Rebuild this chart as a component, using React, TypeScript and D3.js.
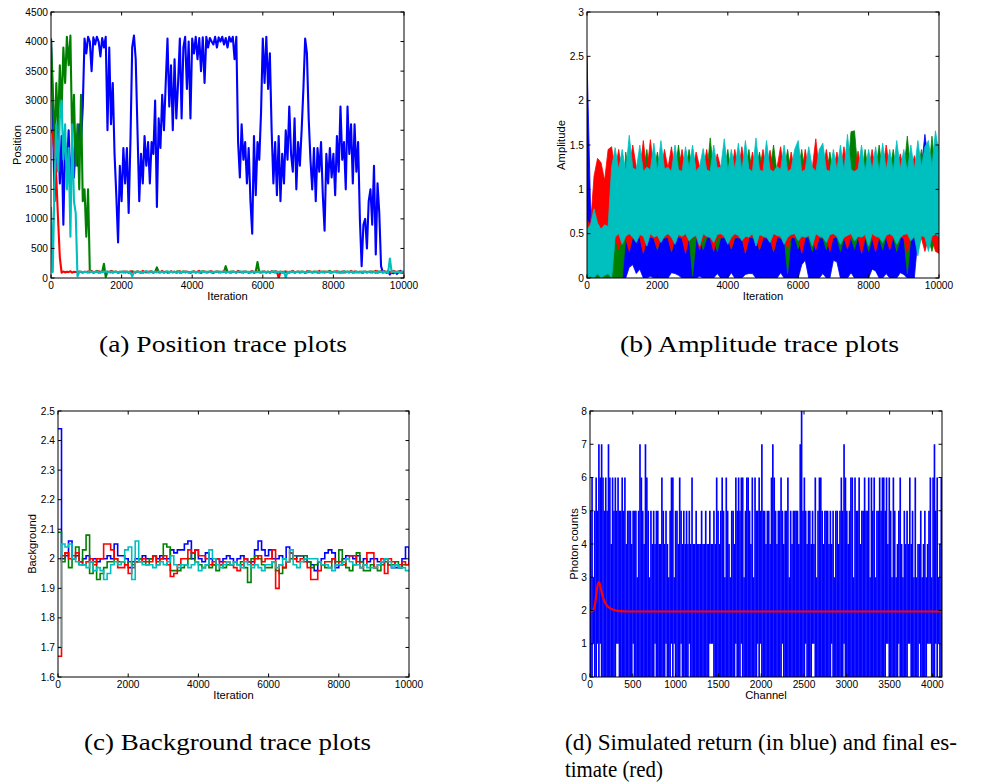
import React from 'react';
import * as d3 from 'd3';

// ---------------- Panel (a): position traces, one value every 50 iterations ----------------
const posStep = 50;
const posBlue = [
  4050,2900,1300,2200,2500,1600,2400,900,2300,1800,2500,1500,2200,1700,2400,1900,2600,2300,2900,4050,
  3800,4080,4000,3500,4070,3950,4080,4000,3750,4060,3900,4080,2500,3900,2600,3300,2100,1400,600,1900,
  1300,2200,1600,2200,1100,2300,3900,4100,3700,2500,1300,2100,1600,2400,1900,2300,1600,2300,2100,3000,
  1200,2700,2200,3100,2500,3300,4050,2900,3600,2500,3700,2700,3300,4050,2700,3900,4080,3200,4000,2700,
  4050,3800,4080,3700,4060,3500,4070,3300,4080,3900,4060,4000,3950,4080,3900,4070,4000,4080,3950,4060,
  3900,4080,4000,4080,3700,4080,2300,1700,2600,2000,2300,1600,2200,1300,750,2400,1400,2300,2000,2800,
  4050,3300,4080,3200,3800,2500,1600,2300,1400,2400,1300,2100,1600,2500,2000,2900,2100,1800,2700,1500,
  2300,1900,2500,3200,4050,3800,2700,2000,1500,2200,1300,2200,1800,2300,1400,800,2100,1600,2200,1700,
  2100,1400,2400,1800,2900,2000,2300,1500,2900,2100,2600,1600,2600,1800,2300,1000,200,900,1000,500,
  1300,1500,900,1900,400,1600,1100,200,100,110,90,120,60,100,80,110,70,100,120,90,100,
];
const posGreen = [
  4050,3200,2200,3300,2500,3600,2800,3900,3300,4080,3600,4100,2300,3100,1900,2600,1500,3100,1300,1500,
  700,1500,100,110,95,100,120,90,105,100,240,20,105,100,95,110,100,105,90,100,
  100,110,95,105,100,90,115,100,95,110,100,105,90,100,110,95,100,115,90,105,
  180,100,95,110,100,105,90,100,110,95,100,105,115,90,100,110,95,105,100,90,
  100,110,95,105,100,90,115,100,105,95,110,100,90,105,100,110,95,100,105,200,
  100,95,110,100,105,90,115,100,95,110,100,105,90,100,110,95,105,270,100,95,
  110,100,95,105,90,110,100,115,95,100,105,90,110,100,95,105,100,110,90,100,
  105,95,110,100,90,105,115,100,95,110,100,105,90,100,110,95,100,105,120,95,
  100,110,95,105,90,100,115,95,110,100,105,90,100,110,95,105,100,90,110,100,
  105,95,110,100,90,115,100,105,95,110,100,90,105,100,115,95,100,110,90,105,100,
];
const posRed = [
  2500,2450,2100,1700,1000,350,90,110,95,105,100,115,90,105,100,95,110,100,90,105,
  100,110,95,120,90,105,100,115,95,100,110,90,105,100,120,95,100,110,90,100,
  105,95,110,100,90,115,100,105,95,110,100,90,120,100,95,105,110,100,95,100,
  110,95,100,120,90,105,100,95,110,100,105,90,100,115,95,100,110,105,95,100,
  100,110,95,105,120,90,100,110,95,100,105,115,90,100,110,95,105,100,120,95,
  105,100,90,110,100,95,120,100,105,90,110,100,95,105,115,90,100,110,95,100,
  100,110,95,105,90,115,100,95,110,0,100,105,95,110,100,90,105,120,95,100,
  110,95,100,105,90,115,100,110,95,100,105,90,120,100,95,110,100,105,90,100,
  105,100,115,95,100,110,90,105,100,95,120,100,110,95,100,105,90,110,100,95,
  100,110,95,105,120,90,100,115,95,105,100,110,90,100,120,95,105,100,110,95,100,
];
const posCyan = [
  1200,100,1600,2600,1800,2700,3000,2000,2600,1500,2200,700,2600,1300,1100,30,100,110,95,105,
  100,90,115,100,105,95,110,100,90,105,100,115,95,100,110,90,105,100,95,110,
  100,105,90,110,100,95,30,100,105,110,95,100,90,105,115,100,95,110,100,105,
  95,110,100,105,90,100,115,95,105,100,110,90,100,105,95,110,100,105,90,100,
  110,95,105,100,90,115,100,105,95,110,100,90,105,100,110,95,105,100,115,90,
  100,105,95,110,100,90,105,115,100,95,110,100,105,90,100,110,95,105,100,110,
  95,105,100,110,90,100,115,95,105,100,110,90,100,10,105,95,100,110,90,105,
  100,110,95,105,100,90,115,100,105,95,100,110,90,105,100,95,110,100,105,90,
  100,105,95,110,100,90,115,100,105,95,110,100,90,105,100,95,110,100,105,95,
  100,110,90,105,100,95,110,100,105,95,100,90,330,100,110,95,105,100,90,110,100,
];
const posTicksX = [0, 2000, 4000, 6000, 8000, 10000];
const posTicksY = [0, 500, 1000, 1500, 2000, 2500, 3000, 3500, 4000, 4500];

// ---------------- Panel (b): amplitude traces, max / min per 100-iteration bin ----------------
const ampBin = 100;
const ampBlueHi = [
  2.5,0.8,0.55,0.5,0.45,0.6,0.5,0.55,0.6,0.5,
  0.55,0.5,0.46,0.62,0.48,0.45,0.5,0.6,0.47,0.48,
  0.65,0.46,0.48,0.5,0.6,0.45,0.48,0.46,0.58,0.47,
  0.5,0.46,0.62,0.45,0.48,0.5,0.46,0.6,0.47,0.45,
  0.5,0.46,0.62,0.48,0.5,0.47,0.45,0.6,0.46,0.5,
  0.64,0.47,0.45,0.5,0.6,0.45,0.48,0.58,0.46,0.47,
  0.5,0.46,0.62,0.48,0.45,0.6,0.47,0.5,0.46,0.62,
  0.48,0.46,0.5,0.45,0.6,0.47,0.48,0.46,0.5,0.62,
  0.47,0.45,0.5,0.48,0.6,0.46,0.47,0.5,0.46,0.6,
  0.48,0.46,0.5,1.0,1.2,1.25,1.62,1.3,1.2,1.25,
  1.2,
];
const ampBlueLo = [
  0,0,0,0,0,0,0,0,0,0,
  0,0,0.12,0.15,0.05,0.1,0,0,0.02,0,
  0,0,0,0,0.06,0.05,0.03,0,0,0,
  0,0,0.02,0,0,0,0,0.05,0,0,
  0,0.06,0,0,0,0.04,0.05,0.05,0,0,
  0,0,0,0,0,0.06,0,0,0,0,
  0,0.15,0.2,0,0,0,0,0.05,0,0,
  0.2,0.18,0,0,0,0.06,0,0,0,0,
  0,0.1,0.08,0,0,0.05,0,0,0,0.06,
  0.04,0,0,0,0.45,0.5,0.4,0.48,0.5,0.45,
  0.5,
];
const ampGreenHi = [
  0.1,0.08,0.05,0.06,0.04,0.07,0.1,0.5,0.55,0.45,
  0.52,1.42,1.15,1.18,1.2,1.15,1.18,1.45,1.15,1.2,
  1.42,1.15,1.18,1.2,1.15,1.18,1.5,1.15,1.2,1.45,
  1.18,1.15,1.2,1.18,1.15,1.58,1.18,1.15,1.2,1.18,
  1.45,1.15,1.18,1.2,1.15,1.18,1.45,1.15,1.2,1.42,
  1.18,1.15,1.2,1.5,1.18,1.15,1.2,1.45,1.15,1.18,
  1.2,1.45,1.15,1.18,1.2,1.15,1.18,1.2,1.15,1.42,
  1.18,1.15,1.2,1.18,1.15,1.65,1.66,1.18,1.15,1.45,
  1.18,1.15,1.2,1.5,1.18,1.15,1.2,1.45,1.18,1.15,
  1.2,1.6,1.18,1.15,1.2,1.45,1.18,1.15,1.6,1.2,
  1.5,
];
const ampGreenLo = [
  0,0,0,0,0,0,0,0,0,0,
  0,0.45,0.33,0.46,0.45,0.47,0.3,0.45,0.46,0.45,
  0.32,0.46,0.45,0.47,0.3,0.45,0.46,0.45,0.33,0.47,
  0.02,0.45,0.46,0.32,0.45,0.47,0.45,0.3,0.46,0.45,
  0.47,0.33,0.45,0.46,0.45,0.3,0.47,0.45,0.46,0.32,
  0.45,0.47,0.45,0.3,0.46,0.45,0.47,0.05,0.45,0.46,
  0.33,0.45,0.47,0.45,0.3,0.46,0.45,0.45,0.32,0.47,
  0.45,0.46,0.3,0.45,0.47,0.45,0.33,0.46,0.45,0.47,
  0.3,0.45,0.46,0.45,0.32,0.47,0.45,0.46,0.3,0.45,
  0.47,0.05,0.45,0.46,0.33,0.45,0.47,0.45,0.3,0.46,
  0.45,
];
const ampRedHi = [
  0.65,0.6,1.15,1.35,1.3,1.1,1.45,1.48,1.2,1.45,
  1.18,1.2,1.22,1.5,1.25,1.2,1.55,1.18,1.56,1.2,
  1.22,1.18,1.45,1.24,1.48,1.2,1.22,1.45,1.2,1.18,
  1.2,1.42,1.25,1.2,1.45,1.18,1.2,1.4,1.24,1.2,
  1.18,1.2,1.45,1.2,1.48,1.2,1.18,1.42,1.2,1.22,
  1.45,1.2,1.44,1.18,1.25,1.48,1.2,1.18,1.42,1.2,
  1.22,1.18,1.45,1.2,1.24,1.57,1.2,1.22,1.45,1.18,
  1.2,1.42,1.2,1.48,1.22,1.18,1.2,1.43,1.2,1.18,
  1.22,1.45,1.2,1.18,1.2,1.5,1.22,1.18,1.2,1.4,
  1.22,1.18,1.2,1.38,1.22,1.2,1.18,1.2,1.22,1.2,
  1.25,
];
const ampRedLo = [
  0.2,0.1,0.55,0.5,0.55,0.6,0.55,0.45,0.45,0.32,
  0.46,0.45,0.3,0.47,0.45,0.46,0.28,0.45,0.46,0.45,
  0.33,0.47,0.45,0.46,0.3,0.45,0.47,0.45,0.28,0.46,
  0.45,0.47,0.32,0.45,0.46,0.45,0.3,0.47,0.45,0.46,
  0.45,0.33,0.47,0.45,0.46,0.28,0.45,0.47,0.46,0.32,
  0.45,0.45,0.47,0.3,0.46,0.45,0.45,0.33,0.47,0.45,
  0.46,0.28,0.45,0.47,0.45,0.32,0.46,0.45,0.45,0.3,
  0.47,0.46,0.45,0.45,0.33,0.47,0.45,0.46,0.28,0.45,
  0.47,0.45,0.3,0.46,0.45,0.45,0.32,0.47,0.45,0.46,
  0.45,0.28,0.47,0.45,0.46,0.45,0.3,0.45,0.45,0.3,
  0.28,
];
const ampCyanHi = [
  0.55,0.6,0.78,0.62,0.55,0.6,0.58,1.25,1.47,1.22,
  1.45,1.2,1.61,1.24,1.22,1.5,1.2,1.25,1.22,1.52,
  1.2,1.55,1.23,1.25,1.2,1.5,1.22,1.2,1.48,1.24,
  1.5,1.2,1.26,1.46,1.22,1.2,1.5,1.24,1.25,1.57,
  1.2,1.45,1.22,1.52,1.2,1.55,1.23,1.2,1.58,1.22,
  1.2,1.55,1.22,1.2,1.26,1.22,1.5,1.2,1.23,1.45,
  1.55,1.2,1.22,1.48,1.25,1.2,1.45,1.52,1.22,1.2,
  1.45,1.22,1.5,1.2,1.62,1.22,1.2,1.23,1.5,1.2,
  1.45,1.22,1.48,1.2,1.52,1.22,1.45,1.2,1.55,1.23,
  1.45,1.2,1.5,1.22,1.55,1.25,1.48,1.55,1.25,1.66,
  1.4,
];
const ampCyanLo = [
  0,0.02,0,0.05,0,0.03,0.05,0,0.46,0.5,
  0.38,0.47,0.5,0.46,0.4,0.49,0.47,0.36,0.5,0.46,
  0.48,0.4,0.47,0.5,0.46,0.38,0.49,0.47,0.5,0.42,
  0.46,0.48,0.36,0.5,0.47,0.46,0.4,0.49,0.5,0.47,
  0.38,0.46,0.5,0.48,0.42,0.47,0.46,0.5,0.36,0.49,
  0.47,0.46,0.4,0.5,0.48,0.47,0.38,0.46,0.49,0.5,
  0.42,0.47,0.46,0.48,0.36,0.5,0.47,0.46,0.4,0.49,
  0.5,0.47,0.38,0.46,0.48,0.5,0.42,0.47,0.46,0.49,
  0.36,0.5,0.47,0.46,0.4,0.48,0.5,0.47,0.38,0.46,
  0.49,0.5,0.42,0.47,0.25,0.48,0.46,0.3,0.47,0.5,
  0.46,
];
const ampTicksX = [0, 2000, 4000, 6000, 8000, 10000];
const ampTicksY = [0, 0.5, 1, 1.5, 2, 2.5, 3];

// ---------------- Panel (c): background traces, one value every 100 iterations ----------------
const bgStep = 100;
const bgBlue = [
  2.44,2.0,2.01,2.06,2.0,2.01,1.99,2.0,2.01,1.99,
  2.0,1.99,2.0,2.0,2.01,2.0,2.05,2.01,2.01,2.0,
  1.97,1.99,2.0,2.0,2.01,2.0,2.0,2.01,2.0,2.01,
  2.0,2.0,2.03,2.02,2.03,2.03,2.05,2.06,2.0,2.03,
  2.0,1.99,2.02,2.0,1.98,2.0,1.99,2.0,2.01,2.0,
  1.99,2.0,2.01,2.0,1.99,1.99,2.03,2.06,2.03,2.01,
  2.03,2.0,2.0,2.01,2.0,2.04,2.02,2.0,2.01,2.01,
  2.0,1.99,1.98,1.96,1.99,2.0,2.02,2.03,2.02,1.97,
  1.98,2.0,2.01,2.01,2.0,2.01,1.99,2.0,1.99,2.0,
  2.0,1.99,1.99,2.0,1.98,1.97,1.97,1.97,2.0,2.04,
  1.98,
];
const bgGreen = [
  2.09,1.99,2.02,1.97,2.0,2.04,1.98,2.03,2.08,1.95,
  1.99,1.93,1.95,1.97,1.99,1.99,2.0,1.99,1.99,1.98,
  1.99,1.98,1.99,2.0,1.99,1.98,2.0,2.01,1.99,2.0,
  2.05,2.04,1.96,1.96,1.96,1.97,1.98,2.0,2.02,1.99,
  1.98,1.97,1.98,1.97,1.98,1.96,1.98,1.97,1.98,1.98,
  1.99,1.98,1.99,1.97,1.92,2.0,2.01,2.0,1.98,1.97,
  1.97,1.99,1.96,1.95,1.97,1.99,2.0,2.01,2.01,2.01,
  2.01,1.99,1.97,1.98,1.99,1.98,1.97,1.97,2.0,1.99,
  2.03,1.99,1.97,1.96,1.98,2.02,1.99,1.96,1.96,1.98,
  1.97,1.96,1.98,1.99,1.98,1.98,1.99,1.97,1.98,1.98,
  1.98,
];
const bgRed = [
  1.67,2.01,2.02,2.0,2.01,2.02,1.99,1.98,1.99,2.0,
  1.98,2.0,2.0,2.05,2.05,2.03,2.0,1.97,1.97,1.98,
  1.95,1.97,1.99,1.99,2.0,1.99,1.99,2.01,1.98,2.0,
  2.01,1.98,1.94,1.95,1.98,2.0,2.0,2.03,2.02,2.03,
  2.01,2.01,2.0,1.98,1.99,2.0,1.98,1.99,1.99,1.98,
  1.97,1.96,1.98,2.0,1.99,1.98,2.0,2.01,1.99,2.0,
  2.0,2.03,1.9,1.98,1.97,1.99,2.02,2.0,1.99,2.0,
  1.99,1.97,1.93,1.93,1.96,1.98,1.99,1.99,2.0,1.98,
  1.99,1.98,2.0,2.01,2.01,1.99,1.97,1.98,2.02,2.02,
  1.97,1.98,2.0,1.95,2.0,1.99,1.98,1.98,1.99,1.98,
  1.99,
];
const bgCyan = [
  1.7,2.05,2.04,2.05,2.0,1.99,1.98,1.98,1.97,1.99,
  1.96,1.97,1.96,1.93,1.95,1.98,1.99,1.98,1.99,2.03,
  2.04,1.93,2.06,1.99,1.98,1.98,1.98,1.97,1.98,1.99,
  1.98,1.99,2.01,1.98,1.97,1.98,1.98,1.97,1.98,1.99,
  1.96,1.97,1.98,2.03,2.0,1.98,1.97,1.98,1.99,1.98,
  1.99,1.98,1.97,1.99,1.98,1.97,1.98,1.97,1.96,1.98,
  1.98,1.99,1.97,1.98,2.0,1.99,2.03,1.98,1.97,1.99,
  2.0,2.0,2.0,2.0,1.99,1.98,1.98,1.97,1.96,1.98,
  1.98,1.99,2.0,1.99,1.98,1.98,1.97,1.98,1.97,1.97,
  1.97,1.98,1.99,2.0,1.99,1.97,1.98,1.97,1.97,1.96,
  1.96,
];
const bgTicksX = [0, 2000, 4000, 6000, 8000, 10000];
const bgTicksY = [1.6, 1.7, 1.8, 1.9, 2.0, 2.1, 2.2, 2.3, 2.4, 2.5];

// ---------------- Panel (d): photon counts, max / min per 16-channel bin ----------------
const chanBin = 16;
const countMax = [
  5,6,3,5,6,5,7,6,7,6,5,6,5,7,6,4,6,5,6,5,
  6,5,5,6,5,6,4,5,5,5,4,5,5,5,3,5,7,6,5,4,
  7,6,5,3,5,4,5,4,5,5,4,4,6,5,4,5,4,3,5,6,
  6,3,5,5,4,6,5,4,5,4,5,4,5,4,6,4,4,5,4,4,
  4,5,4,4,5,4,4,5,4,4,5,4,6,5,4,5,6,5,3,6,
  5,4,3,5,5,4,6,5,6,5,6,6,3,5,6,6,5,4,6,3,
  6,5,5,6,5,7,5,5,4,5,5,4,6,7,6,5,4,5,5,6,
  5,4,5,5,6,3,5,4,5,5,5,5,4,7,8,5,6,5,4,5,
  5,4,5,4,6,3,5,6,6,5,4,5,5,5,4,5,4,5,3,5,
  5,4,5,6,5,7,6,5,4,5,6,6,3,6,5,5,6,4,5,5,
  6,5,5,6,3,6,5,6,3,5,5,6,5,6,6,5,6,4,6,5,
  3,6,5,3,4,5,6,4,3,5,4,5,4,6,4,5,3,6,3,4,
  4,5,3,4,5,3,4,5,6,3,6,7,5,6,3,4,6,
];
const countMin = [
  0,0,1,0,0,1,0,1,0,0,0,0,0,0,0,0,0,0,0,1,
  1,0,0,0,0,0,0,0,0,0,0,1,0,0,0,0,0,0,0,0,
  0,0,0,0,0,0,0,1,0,0,0,0,0,0,0,1,0,0,0,1,
  0,1,0,0,0,0,1,0,0,0,0,0,1,0,0,0,0,0,0,0,
  0,0,0,0,0,0,0,1,1,1,0,0,0,0,0,0,0,0,0,0,
  0,0,0,0,0,0,1,0,0,0,1,0,0,0,0,0,0,0,0,0,
  0,0,1,0,1,0,0,0,0,0,0,0,0,0,0,0,0,0,0,0,
  1,0,0,0,0,0,0,0,0,0,0,0,0,0,0,0,0,1,0,0,
  0,0,1,1,0,0,0,0,0,0,0,0,0,0,0,0,1,0,0,0,
  0,0,0,0,0,1,0,0,0,0,0,0,0,0,0,0,0,0,0,0,
  0,0,0,0,0,0,0,0,0,0,0,0,0,0,0,0,1,1,0,0,
  0,0,0,0,0,1,0,0,0,0,0,0,1,1,0,0,0,0,0,0,
  1,0,0,0,0,0,1,1,1,0,0,0,1,0,1,0,0,
];
const estChannel = [0, 25, 50, 70, 85, 100, 110, 125, 145, 170, 200, 240, 290, 350, 450, 4112];
const estValue = [1.97, 1.98, 2.08, 2.4, 2.7, 2.85, 2.83, 2.68, 2.45, 2.27, 2.14, 2.06, 2.01, 1.98, 1.97, 1.97];
const chanTicksX = [0, 500, 1000, 1500, 2000, 2500, 3000, 3500, 4000];
const countTicksY = [0, 1, 2, 3, 4, 5, 6, 7, 8];

const BLUE = '#0000ff';
const GREEN = '#008000';
const RED = '#ff0000';
const CYAN = '#00bfbf';

const TICK_FONT = "'Liberation Sans', Arial, Helvetica, sans-serif";
const SERIF = "'Liberation Serif', 'Times New Roman', serif";

type AxesProps = {
  id: string;
  x: d3.ScaleLinear<number, number>;
  y: d3.ScaleLinear<number, number>;
  xTicks: number[];
  yTicks: number[];
  xLabel: string;
  yLabel: string;
  yLabelX: number;
  fmt: (v: number) => string;
  children?: React.ReactNode;
};

function Axes({ id, x, y, xTicks, yTicks, xLabel, yLabel, yLabelX, fmt, children }: AxesProps) {
  const [x0, x1] = x.range();
  const [y0, y1] = y.range(); // y0 bottom, y1 top
  const tl = 3.5;
  return (
    <g>
      <defs>
        <clipPath id={id}>
          <rect x={x0} y={y1} width={x1 - x0} height={y0 - y1} />
        </clipPath>
      </defs>
      <rect x={x0} y={y1} width={x1 - x0} height={y0 - y1} fill="#fff" />
      <g clipPath={`url(#${id})`}>{children}</g>
      <rect x={x0} y={y1} width={x1 - x0} height={y0 - y1} fill="none" stroke="#000" strokeWidth={1} />
      {xTicks.map((t) => (
        <g key={'x' + t}>
          <line x1={x(t)} x2={x(t)} y1={y0} y2={y0 - tl} stroke="#000" strokeWidth={1} />
          <line x1={x(t)} x2={x(t)} y1={y1} y2={y1 + tl} stroke="#000" strokeWidth={1} />
          <text x={x(t)} y={y0 + 11} textAnchor="middle" fontSize={10.2} fontFamily={TICK_FONT} fill="#000">
            {String(t)}
          </text>
        </g>
      ))}
      {yTicks.map((t) => (
        <g key={'y' + t}>
          <line x1={x0} x2={x0 + tl} y1={y(t)} y2={y(t)} stroke="#000" strokeWidth={1} />
          <line x1={x1} x2={x1 - tl} y1={y(t)} y2={y(t)} stroke="#000" strokeWidth={1} />
          <text x={x0 - 3} y={y(t) + 3.6} textAnchor="end" fontSize={10.2} fontFamily={TICK_FONT} fill="#000">
            {fmt(t)}
          </text>
        </g>
      ))}
      <text x={(x0 + x1) / 2} y={y0 + 21.5} textAnchor="middle" fontSize={11.2} fontFamily={TICK_FONT} fill="#000">
        {xLabel}
      </text>
      <text
        transform={`translate(${yLabelX},${(y0 + y1) / 2}) rotate(-90)`}
        textAnchor="middle"
        fontSize={11.2}
        fontFamily={TICK_FONT}
        fill="#000"
      >
        {yLabel}
      </text>
    </g>
  );
}

export default function App() {
  // Panel a
  const ax = d3.scaleLinear().domain([0, 10000]).range([51, 404]);
  const ay = d3.scaleLinear().domain([0, 4500]).range([278, 12]);
  const posLine = d3
    .line<number>()
    .x((_, i) => ax(i * posStep))
    .y((v) => ay(v));

  // Panel b: min/max band per bin
  const bx = d3.scaleLinear().domain([0, 10000]).range([587, 939]);
  const by = d3.scaleLinear().domain([0, 3]).range([278, 12]);
  const band = (hi: number[], lo: number[]) =>
    d3
      .area<number>()
      .x((_, i) => bx(i * ampBin))
      .y0((_, i) => by(lo[i]))
      .y1((v) => by(v))(hi) || '';

  // Panel c
  const cx = d3.scaleLinear().domain([0, 10000]).range([58, 409]);
  const cy = d3.scaleLinear().domain([1.6, 2.5]).range([677, 411]);
  const bgLine = d3
    .line<number>()
    .x((_, i) => cx(i * bgStep))
    .y((v) => cy(v))
    .curve(d3.curveStepAfter);

  // Panel d
  const dx = d3.scaleLinear().domain([0, 4112]).range([590, 942]);
  const dy = d3.scaleLinear().domain([0, 8]).range([677, 411]);
  const estLine = d3
    .line<number>()
    .x((_, i) => dx(estChannel[i]))
    .y((v) => dy(v))
    .curve(d3.curveMonotoneX);
  const barW = dx(chanBin) - dx(0) + 0.3;

  const intFmt = (v: number) => String(v);
  const decFmt = (v: number) => String(+v.toFixed(1));

  const ampSeries: [number[], number[], string][] = [
    [ampBlueHi, ampBlueLo, BLUE],
    [ampGreenHi, ampGreenLo, GREEN],
    [ampRedHi, ampRedLo, RED],
    [ampCyanHi, ampCyanLo, CYAN],
  ];

  return (
    <svg
      width={986}
      height={783}
      viewBox="0 0 986 783"
      style={{ position: 'absolute', left: 0, top: 0, background: '#fff' }}
    >
      <rect x={0} y={0} width={986} height={783} fill="#fff" />

      <Axes id="clipA" x={ax} y={ay} xTicks={posTicksX} yTicks={posTicksY} xLabel="Iteration" yLabel="Position" yLabelX={20.5} fmt={intFmt}>
        <path d={posLine(posBlue) || ''} fill="none" stroke={BLUE} strokeWidth={2.1} strokeLinejoin="round" />
        <path d={posLine(posGreen) || ''} fill="none" stroke={GREEN} strokeWidth={2.1} strokeLinejoin="round" />
        <path d={posLine(posRed) || ''} fill="none" stroke={RED} strokeWidth={2.1} strokeLinejoin="round" />
        <path d={posLine(posCyan) || ''} fill="none" stroke={CYAN} strokeWidth={2.1} strokeLinejoin="round" />
      </Axes>

      <Axes id="clipB" x={bx} y={by} xTicks={ampTicksX} yTicks={ampTicksY} xLabel="Iteration" yLabel="Amplitude" yLabelX={565} fmt={decFmt}>
        {ampSeries.map(([hi, lo, col], k) => (
          <path key={k} d={band(hi, lo)} fill={col} stroke={col} strokeWidth={0.8} strokeLinejoin="miter" />
        ))}
      </Axes>

      <Axes id="clipC" x={cx} y={cy} xTicks={bgTicksX} yTicks={bgTicksY} xLabel="Iteration" yLabel="Background" yLabelX={35.5} fmt={decFmt}>
        <path d={bgLine(bgBlue) || ''} fill="none" stroke={BLUE} strokeWidth={1.6} />
        <path d={bgLine(bgGreen) || ''} fill="none" stroke={GREEN} strokeWidth={1.6} />
        <path d={bgLine(bgRed) || ''} fill="none" stroke={RED} strokeWidth={1.6} />
        <path d={bgLine(bgCyan) || ''} fill="none" stroke={CYAN} strokeWidth={1.6} />
      </Axes>

      <Axes id="clipD" x={dx} y={dy} xTicks={chanTicksX} yTicks={countTicksY} xLabel="Channel" yLabel="Photon counts" yLabelX={577.5} fmt={intFmt}>
        {countMax.map((m, i) => (
          <line
            key={i}
            x1={dx(i * chanBin + chanBin / 2)}
            x2={dx(i * chanBin + chanBin / 2)}
            y1={dy(countMin[i])}
            y2={dy(m)}
            stroke={BLUE}
            strokeWidth={barW}
          />
        ))}
        <path d={estLine(estValue) || ''} fill="none" stroke={RED} strokeWidth={2.2} />
      </Axes>

      <g fontFamily={SERIF} fontSize={24} fill="#000">
        <text x={99} y={352} textLength={248} lengthAdjust="spacingAndGlyphs">(a) Position trace plots</text>
        <text x={620} y={352} textLength={279} lengthAdjust="spacingAndGlyphs">(b) Amplitude trace plots</text>
        <text x={84} y={750} textLength={287} lengthAdjust="spacingAndGlyphs">(c) Background trace plots</text>
        <text x={565} y={750} textLength={392} lengthAdjust="spacingAndGlyphs">(d) Simulated return (in blue) and final es-</text>
        <text x={565} y={777} textLength={98} lengthAdjust="spacingAndGlyphs">timate (red)</text>
      </g>
    </svg>
  );
}
